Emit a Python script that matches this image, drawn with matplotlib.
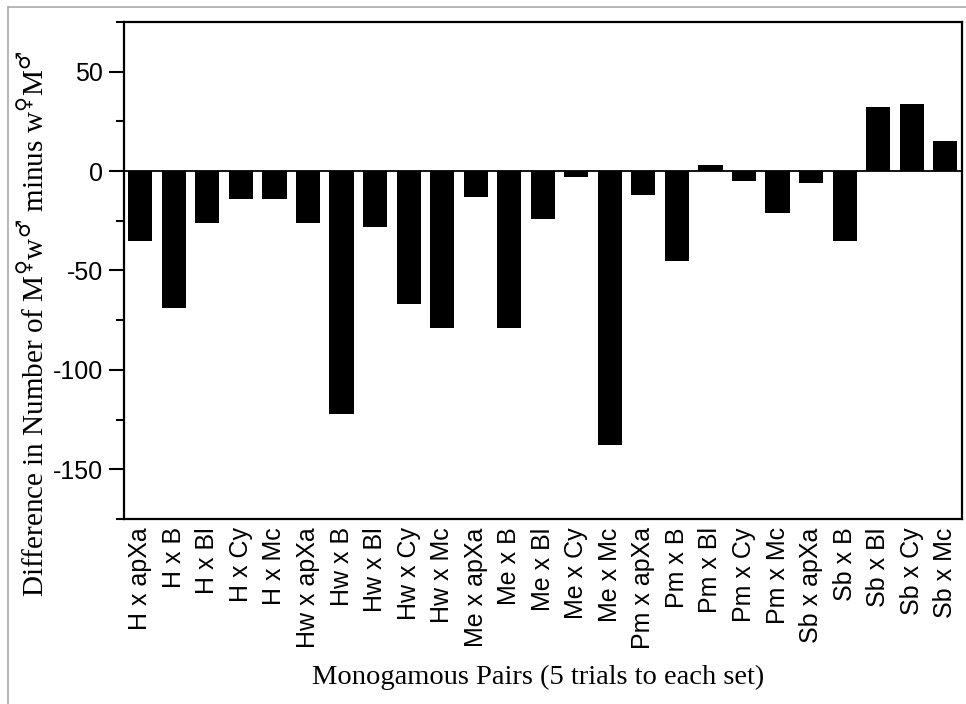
import numpy as np
import matplotlib.pyplot as plt
from matplotlib.lines import Line2D

# Data
pairs = ["H x apXa", "H x B", "H x Bl", "H x Cy", "H x Mc",
         "Hw x apXa", "Hw x B", "Hw x Bl", "Hw x Cy", "Hw x Mc",
         "Me x apXa", "Me x B", "Me x Bl", "Me x Cy", "Me x Mc",
         "Pm x apXa", "Pm x B", "Pm x Bl", "Pm x Cy", "Pm x Mc",
         "Sb x apXa", "Sb x B", "Sb x Bl", "Sb x Cy", "Sb x Mc"]
difference = [-35, -69, -26, -14, -14,
              -26, -122, -28, -67, -79,
              -13, -79, -24, -3, -138,
              -12, -45, 3, -5, -21,
              -6, -35, 32, 34, 15]
ytick_values = [50, 0, -50, -100, -150]

plt.rcParams['mathtext.fontset'] = 'custom'
plt.rcParams['mathtext.rm'] = 'DejaVu Sans'
plt.rcParams['mathtext.it'] = 'DejaVu Sans'

fig = plt.figure(figsize=(9.66, 7.04), dpi=100)
ax = fig.add_axes([123.5 / 966, 1 - 519 / 704, (962 - 123.5) / 966, (519 - 22) / 704])

x = np.arange(len(pairs))
ax.bar(x, difference, width=0.72, color='black')
ax.axhline(0, color='black', lw=1.3)

ax.set_xlim(-0.5, len(pairs) - 0.5)
ax.set_ylim(-175, 75)

sans = ['Liberation Sans', 'DejaVu Sans']
ax.set_yticks(ytick_values)
ax.set_yticklabels([str(v) for v in ytick_values], family=sans, fontsize=18)
ax.set_yticks(np.arange(-175, 76, 25), minor=True)
ax.tick_params(axis='y', which='major', length=11, width=1.5, pad=3.5)
ax.tick_params(axis='y', which='minor', length=5.8, width=1.5)

ax.set_xticks(x)
ax.set_xticklabels(pairs, rotation=90, family=sans, fontsize=18, va='top')
ax.tick_params(axis='x', length=0, pad=6)

for s in ax.spines.values():
    s.set_linewidth(1.6)

serif = ['Liberation Serif', 'DejaVu Serif']
ax.set_ylabel(r"Difference in Number of M$^{\mathrm{♀}}$w$^{\mathrm{♂}}$ minus w$^{\mathrm{♀}}$M$^{\mathrm{♂}}$",
              family=serif, fontsize=21)
ax.yaxis.set_label_coords(-0.088, 0.392)
ax.set_xlabel("Monogamous Pairs (5 trials to each set)", family=serif, fontsize=20.5)
ax.xaxis.set_label_coords(0.495, -0.294)

# thin grey frame on top and left of the picture
fig.add_artist(Line2D([8 / 966, 1], [1 - 7 / 704, 1 - 7 / 704], color='#aaaaaa', lw=1.2))
fig.add_artist(Line2D([8 / 966, 8 / 966], [0, 1 - 7 / 704], color='#aaaaaa', lw=1.2))

fig.savefig("out.png", dpi=100)
